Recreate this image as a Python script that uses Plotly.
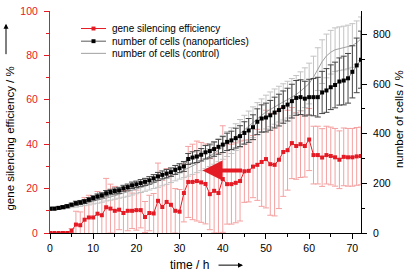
import plotly.graph_objects as go

time_h = list(range(73))

silencing = [0, 0, 0, 0, 0, 1, 3.8, 3.5, 6, 7, 7, 8.7, 8, 11.6, 11, 10, 10.5, 9, 10, 10,
             10.3, 10.3, 7.2, 9, 8.8, 14.5, 11.7, 14, 12.7, 10, 9.6, 18, 23, 23, 23.4, 22.8,
             22.1, 17.5, 19, 18, 24.3, 22, 22, 22.6, 23.4, 27.8, 28, 29.9, 30.7, 32, 33.3,
             31, 30.7, 33, 36.5, 37.3, 40.5, 39.2, 40, 39.2, 42.1, 35.1, 35.1, 34, 35.1,
             34.7, 34.1, 33, 34.3, 34.1, 34.1, 34.5, 34.7]
silencing_err = [0, 0, 0, 0, 0, 1, 6, 6, 10, 10, 9, 10, 9, 13, 11, 11, 9, 10, 9, 8,
                 9, 8, 7, 8, 9, 17, 12, 15, 13, 10, 10, 13, 16, 17, 18, 18, 18, 16, 19, 18,
                 24, 18, 18, 18, 18, 14, 14, 14, 16, 20, 22, 23, 23, 22, 20, 18, 16, 15, 15,
                 14, 14, 13, 13, 13, 13, 13, 13, 13, 13, 13, 13, 13, 13]

cells_np = [98, 98, 101, 104, 108, 114, 120, 123, 127, 134, 141, 147, 152, 160, 165, 169,
            172, 180, 185, 192, 196, 201, 206, 212, 220, 228, 234, 239, 245, 254, 261, 268,
            298, 304, 308, 315, 325, 330, 338, 347, 356, 367, 373, 382, 390, 403, 413, 426,
            448, 461, 465, 474, 485, 495, 507, 517, 531, 544, 547, 541, 547, 547, 547, 566,
            574, 587, 596, 610, 614, 623, 649, 675, 698]
cells_np_err = [5, 5, 5, 6, 6, 6, 8, 8, 8, 8, 9, 10, 10, 11, 11, 12, 12, 12, 12, 13,
                13, 14, 14, 15, 15, 16, 16, 17, 17, 18, 18, 20, 22, 23, 24, 25, 27, 28, 29, 30,
                32, 35, 37, 40, 42, 45, 48, 50, 52, 55, 58, 60, 62, 64, 65, 66, 68, 70, 70, 70,
                72, 75, 80, 85, 88, 90, 92, 95, 98, 100, 105, 110, 115]

cells_ctrl = [100, 100, 102, 104, 106, 109, 112, 115, 119, 123, 127, 131, 136, 141, 145, 150,
              155, 160, 165, 171, 176, 182, 188, 194, 201, 207, 214, 221, 229, 237, 245, 253,
              261, 270, 279, 289, 299, 310, 321, 333, 345, 358, 372, 386, 401, 416, 431, 446,
              461, 474, 487, 498, 509, 519, 528, 537, 547, 558, 571, 585, 602, 628, 660, 690,
              713, 728, 738, 742, 745, 749, 755, 766, 782]
cells_ctrl_err = [5, 5, 6, 6, 7, 7, 8, 8, 9, 10, 10, 11, 12, 12, 13, 14, 15, 16, 17, 18,
                  18, 19, 20, 21, 22, 23, 24, 25, 26, 27, 28, 30, 32, 34, 36, 38, 40, 42, 44, 46,
                  48, 50, 52, 54, 56, 58, 60, 62, 64, 66, 68, 70, 71, 72, 73, 74, 75, 76, 78, 80,
                  82, 84, 86, 88, 88, 88, 88, 88, 88, 88, 88, 88, 88]

legend_labels = ["gene silencing efficiency", "number of cells (nanoparticles)",
                 "number of cells (control)"]

RED = "rgb(228,26,36)"
PINK = "rgb(244,160,160)"
DARK = "rgb(90,90,90)"
LIGHT = "rgb(160,160,160)"
FONT = "Liberation Sans, Arial, sans-serif"

fig = go.Figure()

fig.add_trace(go.Scatter(
    x=time_h, y=cells_ctrl, yaxis="y2", name=legend_labels[2],
    mode="lines", showlegend=False,
    line=dict(color=LIGHT, width=1),
    error_y=dict(type="data", array=cells_ctrl_err, visible=True,
                 color="rgb(195,195,195)", thickness=1, width=3),
))
fig.add_trace(go.Scatter(
    x=time_h, y=cells_np, yaxis="y2", name=legend_labels[1],
    mode="lines+markers", showlegend=False,
    line=dict(color=DARK, width=0.8),
    marker=dict(symbol="square", size=4, color="black"),
    error_y=dict(type="data", array=cells_np_err, visible=True,
                 color="rgb(70,70,70)", thickness=1, width=3),
))
fig.add_trace(go.Scatter(
    x=time_h, y=silencing, yaxis="y", name=legend_labels[0],
    mode="lines+markers", showlegend=False,
    line=dict(color=RED, width=1),
    marker=dict(symbol="square", size=4, color=RED),
    error_y=dict(type="data", array=silencing_err, visible=True,
                 color=PINK, thickness=1, width=3),
))

fig.update_layout(
    width=406, height=273,
    margin=dict(l=50, r=45, t=5, b=40),
    paper_bgcolor="white", plot_bgcolor="white",
    font=dict(family=FONT, size=10, color="black"),
    showlegend=False,
    xaxis=dict(range=[0, 72], tickvals=list(range(0, 80, 10)),
               showline=True, linecolor="black", linewidth=1,
               ticks="outside", ticklen=5, tickcolor="black",
               minor=dict(dtick=5, tick0=0, ticks="outside", ticklen=3, tickcolor="black"),
               showgrid=False, zeroline=False, tickfont=dict(size=10.5),
               ticklabeloverflow="allow"),
    yaxis=dict(range=[0, 100], tickvals=list(range(0, 120, 20)),
               showline=True, linecolor=RED, linewidth=1,
               ticks="outside", ticklen=5, tickcolor=RED,
               minor=dict(dtick=10, tick0=0, ticks="outside", ticklen=3, tickcolor=RED),
               tickfont=dict(color=RED, size=10.5), ticklabelstandoff=4,
               ticklabeloverflow="allow",
               showgrid=False, zeroline=False),
    yaxis2=dict(range=[0, 894], tickvals=list(range(0, 1000, 200)),
                overlaying="y", side="right",
                showline=True, linecolor="black", linewidth=1,
                ticks="outside", ticklen=5, tickcolor="black",
                minor=dict(dtick=100, tick0=0, ticks="outside", ticklen=3, tickcolor="black"),
                tickfont=dict(size=10.5), ticklabelstandoff=4,
                ticklabeloverflow="allow",
                showgrid=False, zeroline=False),
)

def px_x(p):
    return (p - 50) / 311.0

def px_y(p):
    return (233 - p) / 228.0

annotations = [
    dict(x=35.3, y=28.2, xref="x", yref="y", ax=44.8, ay=28.2, axref="x", ayref="y",
         showarrow=True, arrowhead=2, arrowsize=1, arrowwidth=4, arrowcolor=RED,
         text="", standoff=0),
    dict(x=px_x(10), y=px_y(136), xref="paper", yref="paper", text="gene silencing efficiency / %",
         textangle=-90, showarrow=False, font=dict(size=11.5), xanchor="center", yanchor="middle"),
    dict(x=px_x(6), y=px_y(18), xref="paper", yref="paper", ax=0, ay=32, text="",
         showarrow=True, arrowhead=2, arrowsize=1, arrowwidth=1, arrowcolor="black", standoff=0),
    dict(x=px_x(399), y=px_y(116), xref="paper", yref="paper", text="number of cells / %",
         textangle=-90, showarrow=False, font=dict(size=11.5), xanchor="center", yanchor="middle"),
    dict(x=px_x(189), y=px_y(266), xref="paper", yref="paper", text="time / h",
         showarrow=False, font=dict(size=12), xanchor="center", yanchor="middle"),
    dict(x=px_x(243), y=px_y(266), xref="paper", yref="paper", ax=-26, ay=0, text="",
         showarrow=True, arrowhead=2, arrowsize=1, arrowwidth=1, arrowcolor="black", standoff=0),
]

# manual legend (compact row spacing as in the reference)
legend_rows = [23, 36, 48.5]
legend_line_colors = [RED, DARK, LIGHT]
legend_marker_colors = [RED, "black", None]
shapes = []
for row_y, label, lc, mc in zip(legend_rows, legend_labels, legend_line_colors, legend_marker_colors):
    shapes.append(dict(type="line", xref="paper", yref="paper",
                       x0=px_x(81), x1=px_x(106), y0=px_y(row_y), y1=px_y(row_y),
                       line=dict(color=lc, width=1)))
    if mc:
        shapes.append(dict(type="rect", xref="paper", yref="paper",
                           x0=px_x(91.5), x1=px_x(95.5), y0=px_y(row_y + 2), y1=px_y(row_y - 2),
                           line=dict(width=0), fillcolor=mc))
    annotations.append(dict(x=px_x(110), y=px_y(row_y), xref="paper", yref="paper", text=label,
                            showarrow=False, font=dict(size=10), xanchor="left", yanchor="middle"))

fig.update_layout(annotations=annotations, shapes=shapes)

fig.write_html("out.html", config={"displayModeBar": False},
               post_script="document.body.style.margin='0';")
